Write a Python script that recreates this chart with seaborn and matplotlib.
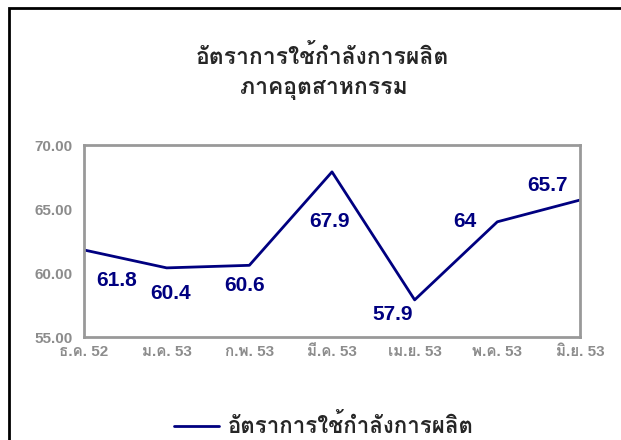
import numpy as np
import pandas as pd
import matplotlib as mpl
mpl.use("Agg")
import matplotlib.pyplot as plt
import seaborn as sns
from matplotlib import font_manager
from matplotlib.ft2font import FT2Font

months = ["ธ.ค. 52", "ม.ค. 53", "ก.พ. 53", "มี.ค. 53", "เม.ย. 53", "พ.ค. 53", "มิ.ย. 53"]
rate = [61.8, 60.4, 60.6, 67.9, 57.9, 64, 65.7]
series_name = "อัตราการใช้กำลังการผลิต"
title_lines = ["อัตราการใช้กำลังการผลิต", "ภาคอุตสาหกรรม"]
yticks = [55, 60, 65, 70]

# label offsets (pixels) like the excel layout
label_dx = [33, 4, -5, -3, -22, -32, -33]
label_dy = [-31, -26, -20, -50, -15, 0, 15]


def thai_families():
    # find installed families that actually have thai glyphs
    found = []
    for f in font_manager.fontManager.ttflist:
        try:
            cmap = FT2Font(f.fname).get_charmap()
        except Exception:
            continue
        if 0x0E2D in cmap and f.name not in found:
            found.append(f.name)
    return found


sns.set_style("white")
fams = ["Liberation Sans"] + thai_families() + ["DejaVu Sans"]
plt.rcParams["font.family"] = fams

df = pd.DataFrame({"month": months, "rate": rate})

navy = "#000080"
gray = "#8c8c8c"

fig = plt.figure(figsize=(6.21, 4.4), dpi=100)
ax = fig.add_axes([84 / 621, 1 - 337 / 440, (580 - 84) / 621, (337 - 145) / 440])

sns.lineplot(data=df, x="month", y="rate", color=navy, linewidth=2,
             sort=False, ax=ax, label=series_name)

ax.set_xlim(0, len(months) - 1)
ax.set_ylim(55, 70)
ax.set_yticks(yticks)
ax.set_yticklabels([f"{v:.2f}" for v in yticks])
ax.set_xlabel("")
ax.set_ylabel("")
for s in ax.spines.values():
    s.set_color("#999999")
    s.set_linewidth(2)
ax.tick_params(axis="y", direction="out", length=5, width=1.5, color="#999999",
               labelcolor=gray, labelsize=11, pad=3)
ax.tick_params(axis="x", direction="in", length=4, width=1.5, color="#999999",
               labelcolor=gray, labelsize=11, pad=6)
for t in ax.get_xticklabels() + ax.get_yticklabels():
    t.set_fontweight("bold")

for i, v in enumerate(rate):
    ax.annotate(f"{v:g}", (i, v), xytext=(label_dx[i] * 0.72, label_dy[i] * 0.72),
                textcoords="offset points", ha="center", va="center",
                color=navy, fontsize=15, fontweight="bold")

fig.text(322 / 621, 1 - 57 / 440, title_lines[0], ha="center", va="center",
         fontsize=16.5, fontweight="bold")
fig.text(324 / 621, 1 - 88 / 440, title_lines[1], ha="center", va="center",
         fontsize=16.5, fontweight="bold")

leg = ax.legend(loc="center", bbox_to_anchor=(0.484, -0.465), frameon=False,
                handlelength=2.0, handletextpad=0.4, prop={"size": 16, "weight": "bold"})

# outer chart frame
fig.patches.append(plt.Rectangle((9 / 621, -0.1), 1.2, 1 - 8 / 440 + 0.1,
                                 transform=fig.transFigure, fill=False,
                                 edgecolor="black", linewidth=2))

fig.savefig("out.png", dpi=100)
